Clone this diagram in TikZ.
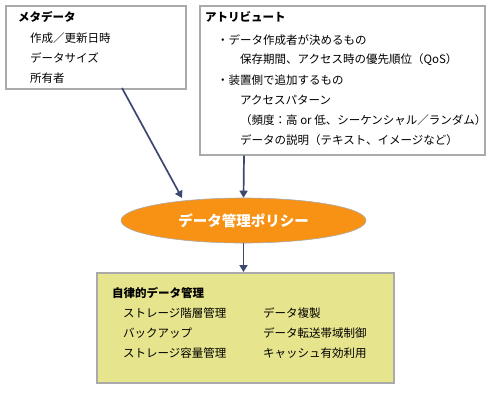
\documentclass[tikz,border=0pt]{standalone}
\usepackage{fontspec}
\setmainfont{Noto Sans CJK JP}
\usetikzlibrary{arrows.meta,shapes.geometric}
\definecolor{boxline}{RGB}{170,170,170}
\definecolor{arrowc}{RGB}{60,72,112}
\definecolor{orangef}{RGB}{248,146,20}
\definecolor{yellowf}{RGB}{230,228,140}
\tikzset{
  infobox/.style={draw=boxline, line width=1.5pt, fill=white},
  txt/.style={anchor=west, inner sep=0pt, font=\fontsize{11.5}{13}\selectfont},
  ttl/.style={anchor=west, inner sep=0pt, font=\fontsize{11.5}{13}\selectfont\bfseries},
  conn/.style={draw=arrowc, line width=1.7pt, -{Triangle[length=7pt,width=8pt]}}
}
\begin{document}
\begin{tikzpicture}[x=1pt,y=-1pt]
\useasboundingbox (0,0) rectangle (490,392);
% metadata box
\node[infobox, minimum width=180pt, minimum height=83pt, anchor=north west] (meta) at (5,5) {};
\node[ttl] (metat) at (18,17) {メタデータ};
\node[txt] (m1) at (30,38) {作成／更新日時};
\node[txt] (m2) at (30,58) {データサイズ};
\node[txt] (m3) at (30,78) {所有者};
% attribute box
\node[infobox, minimum width=285pt, minimum height=149pt, anchor=north west] (attr) at (199,5) {};
\node[ttl] (attrt) at (205,17) {アトリビュート};
\node[txt] (a1) at (217,40) {・データ作成者が決めるもの};
\node[txt] (a2) at (240,60) {保存期間、アクセス時の優先順位（QoS）};
\node[txt] (a3) at (217,80) {・装置側で追加するもの};
\node[txt] (a4) at (240,100) {アクセスパターン};
\node[txt] (a5) at (240,120) {（頻度：高 or 低、シーケンシャル／ランダム）};
\node[txt] (a6) at (240,140) {データの説明（テキスト、イメージなど）};
% ellipse
\node[ellipse, draw=boxline, line width=0.6pt, fill=orangef, minimum width=245pt, minimum height=45pt, inner sep=0pt,
      text=white, font=\fontsize{14.5}{16}\selectfont\bfseries] (pol) at (243.5,220.5) {データ管理ポリシー};
% bottom box
\node[draw=boxline, line width=1.5pt, fill=yellowf, minimum width=297pt, minimum height=110pt, anchor=north west] (auto) at (96,272) {};
\node[ttl] (autot) at (112,293) {自律的データ管理};
\node[txt] (b1) at (123,313) {ストレージ階層管理};
\node[txt] (b2) at (123,333) {バックアップ};
\node[txt] (b3) at (123,353) {ストレージ容量管理};
\node[txt] (c1) at (263,313) {データ複製};
\node[txt] (c2) at (263,333) {データ転送帯域制御};
\node[txt] (c3) at (263,353) {キャッシュ有効利用};
% connectors
\coordinate (ms) at (122,88);
\coordinate (me) at (182,198);
\draw[conn] (ms) -- (me);
\draw[conn] (attr.south -| pol.north) ++(0.5,0) -- (pol.north);
\draw[conn] (pol.south) -- (auto.north -| pol.south);
\end{tikzpicture}
\end{document}
